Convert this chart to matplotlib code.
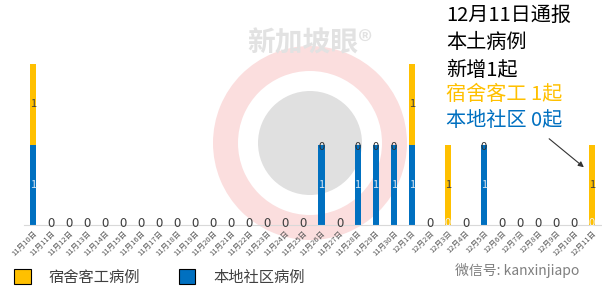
import numpy as np
import matplotlib
matplotlib.use("Agg")
import matplotlib.pyplot as plt
from matplotlib.patches import Patch, Circle, Wedge, FancyArrowPatch
from matplotlib.transforms import IdentityTransform

plt.rcParams['font.family'] = ['Noto Sans CJK SC', 'DejaVu Sans']

# 日期
dates = ["11月%d日" % d for d in range(10, 31)] + ["12月%d日" % d for d in range(1, 12)]
# 本地社区病例
community = [1, 0, 0, 0, 0, 0, 0, 0, 0, 0, 0, 0, 0, 0, 0, 0,
             1, 0, 1, 1, 1, 1, 0, 0, 0, 1, 0, 0, 0, 0, 0, 0]
# 宿舍客工病例
dorm = [1, 0, 0, 0, 0, 0, 0, 0, 0, 0, 0, 0, 0, 0, 0, 0,
        0, 0, 0, 0, 0, 1, 0, 1, 0, 0, 0, 0, 0, 0, 0, 1]

orange = "#FFC000"
blue = "#0070C0"
H = 298

fig = plt.figure(figsize=(6.02, 2.98), dpi=100)

# 水印 (像素坐标)
cx, cy = 310, H - 143
fig.patches.append(Wedge((cx, cy), 97, 0, 360, width=25, transform=IdentityTransform(),
                         facecolor="#fbdede", edgecolor="none", zorder=0))
fig.patches.append(Circle((cx, cy), 52, transform=IdentityTransform(),
                          facecolor="#e0e0e0", edgecolor="none", zorder=0))
fig.text(310 / 602, 1 - 43 / H, "新加坡眼®", ha="center", va="center",
         fontsize=20, color="#e2e2e2", zorder=0, fontweight="bold")

ax = fig.add_axes([24 / 602, 0.245, 577 / 602, 0.648])
ax.set_zorder(1)
ax.patch.set_alpha(0)
x = np.arange(len(dates))
w = 0.34
ax.bar(x, community, w, color=blue, label="本地社区病例", zorder=2)
ax.bar(x, dorm, w, bottom=community, color=orange, label="宿舍客工病例", zorder=2)

for i in range(len(dates)):
    c, d = community[i], dorm[i]
    if c > 0:
        ax.text(x[i], c / 2, str(c), ha="center", va="center", fontsize=8,
                color="#d9e6f2", zorder=3)
    if d > 0:
        ax.text(x[i], c + d / 2, str(d), ha="center", va="center", fontsize=8,
                color="#404040", zorder=3)
    if c == 0 and d == 0:
        ax.text(x[i], 0.02, "0", ha="center", va="center", fontsize=9.5,
                color="#404040", zorder=3)
    elif c == 0:
        ax.text(x[i], 0.02, "0", ha="center", va="center", fontsize=8,
                color="#f0f0f0", zorder=3)
    elif d == 0:
        ax.text(x[i], c - 0.03, "0", ha="center", va="center", fontsize=8,
                color="#303030", zorder=3)

ax.set_xlim(-0.5, len(dates) - 0.5)
ax.set_ylim(0, 2.4)
for s in ["top", "right", "left"]:
    ax.spines[s].set_visible(False)
ax.spines["bottom"].set_color("#d9d9d9")
ax.set_yticks([])
ax.set_xticks(x)
ax.set_xticklabels(dates, rotation=45, ha="right", rotation_mode="anchor",
                   fontsize=5.5, color="#595959")
ax.tick_params(axis="x", length=0, pad=3)

handles = [Patch(facecolor=orange, edgecolor="black", linewidth=0.8, label="宿舍客工病例"),
           Patch(facecolor=blue, edgecolor="black", linewidth=0.8, label="本地社区病例")]
fig.legend(handles=handles, loc="center left", bbox_to_anchor=(0.0, 1 - 277 / H), ncol=2,
           frameon=False, fontsize=11, handlelength=1.1, handleheight=1.1,
           handletextpad=1.2, columnspacing=2.5, labelcolor="#404040")

# 通报文字
lines = [("12月11日通报", "black", 15), ("本土病例", "black", 43), ("新增1起", "black", 70),
         ("宿舍客工 1起", orange, 95), ("本地社区 0起", blue, 120)]
for txt, col, yy in lines:
    fig.text(446 / 602, 1 - yy / H, txt, ha="left", va="center", fontsize=14.5, color=col)

fig.add_artist(FancyArrowPatch(
    (547 / 602, 1 - 137 / H), (586 / 602, 1 - 169 / H), transform=fig.transFigure,
    arrowstyle="-|>", mutation_scale=8, color="#333333", linewidth=0.8))

fig.text(455 / 602, 1 - 270 / H, "微信号: kanxinjiapo", ha="left", va="center",
         fontsize=10, color="#7f7f7f")

fig.savefig("out.png", dpi=100)
